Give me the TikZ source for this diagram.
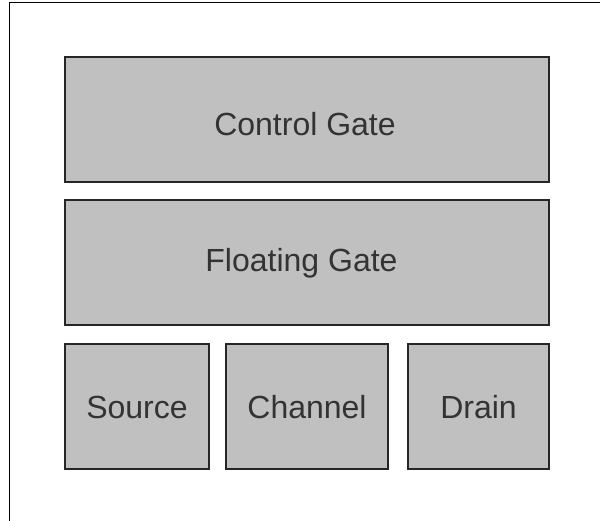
\documentclass[tikz,border=0pt]{standalone}
\usepackage{fontspec}
\setmainfont{Liberation Sans}
\usepackage{xcolor}
\definecolor{cellgray}{HTML}{C0C0C0}
\definecolor{labelgray}{HTML}{333333}
\usetikzlibrary{calc}

\begin{document}
\begin{tikzpicture} [x=1pt, y=-1pt,
  cell/.style={draw=black!85, line width=1.1pt, fill=cellgray},
  cellname/.style={text=labelgray, font=\fontsize{32}{36}\selectfont}]
\useasboundingbox (0,0) rectangle (600,521);
\draw[black, line width=1.4pt] (9.5,521) -- (9.5,2.5) -- (600,2.5);

\draw[cell] (65,57) rectangle (549,182);
\draw[cell] (65,200) rectangle (549,325);
\draw[cell] (65,344) rectangle (209,469);
\draw[cell] (226,344) rectangle (388,469);
\draw[cell] (408,344) rectangle (549,469);

\node[cellname] (cg) at (305,124) {Control Gate};
\node[cellname] (fg) at (301.5,263) {Floating Gate};
\node[cellname] (src) at (137,407) {Source};
\node[cellname] (ch) at (307,407) {Channel};
\node[cellname] (dr) at (478.5,407) {Drain};
\end{tikzpicture}
\end{document}
